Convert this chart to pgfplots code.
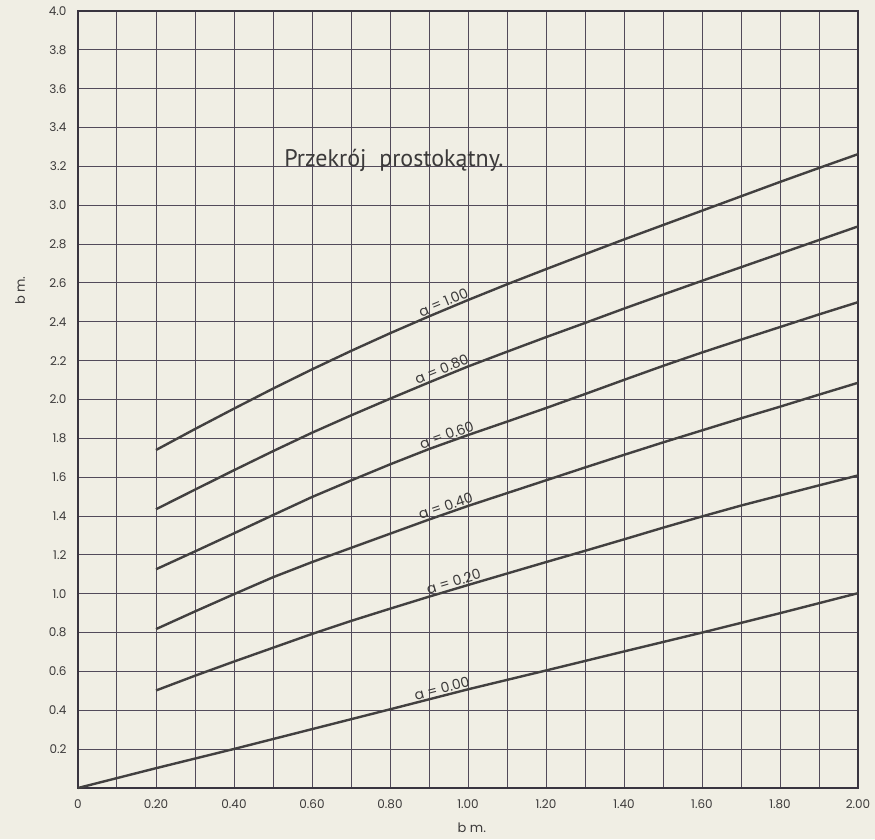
\documentclass[border=0pt]{standalone}
\usepackage{pgfplots}
\pgfplotsset{compat=1.18}
\usepackage{fontspec}
\setmainfont{Poppins}
\newfontfamily\titlefont{PT Sans}
\definecolor{bg}{RGB}{240,238,228}
\definecolor{gridc}{RGB}{82,74,90}
\definecolor{curve}{RGB}{66,64,64}
\definecolor{txt}{RGB}{60,58,58}
\begin{document}
\begin{tikzpicture}
\fill[bg] (-78pt,-51pt) rectangle (797pt,788pt);
\begin{axis}[
  at={(0pt,0pt)}, anchor=south west,
  scale only axis, width=780pt, height=777pt,
  xmin=0, xmax=2, ymin=0, ymax=4,
  xtick={0,0.2,0.4,0.6,0.8,1.0,1.2,1.4,1.6,1.8,2.0},
  xticklabels={0,0.20,0.40,0.60,0.80,1.00,1.20,1.40,1.60,1.80,2.00},
  minor xtick={0.1,0.3,0.5,0.7,0.9,1.1,1.3,1.5,1.7,1.9},
  ytick={0.2,0.4,0.6,0.8,1.0,1.2,1.4,1.6,1.8,2.0,2.2,2.4,2.6,2.8,3.0,3.2,3.4,3.6,3.8,4.0},
  yticklabels={0.2,0.4,0.6,0.8,1.0,1.2,1.4,1.6,1.8,2.0,2.2,2.4,2.6,2.8,3.0,3.2,3.4,3.6,3.8,4.0},
  major tick length=0pt, minor tick length=0pt,
  grid=both,
  major grid style={gridc, line width=1pt},
  minor grid style={gridc, line width=1pt},
  axis line style={gridc!70!black, line width=1.8pt},
  tick label style={font=\fontsize{12}{14}\selectfont, text=txt},
  xticklabel style={yshift=-8pt},
  yticklabel style={xshift=-8pt},
  xlabel={b m.},
  xlabel style={at={(rel axis cs:0.505,0)}, anchor=center, yshift=-40pt, font=\fontsize{13}{15}\selectfont, text=txt},
  ylabel={b m.},
  ylabel style={at={(rel axis cs:0,0.64)}, anchor=center, yshift=58pt, font=\fontsize{13}{15}\selectfont, text=txt},
  clip=false,
]
\addplot[curve, line width=2.4pt] coordinates {
(0.2,1.740) (0.3,1.848) (0.4,1.953) (0.5,2.056) (0.6,2.155) (0.7,2.250) (0.8,2.341) (0.9,2.428) (1.0,2.512) (1.1,2.593) (1.2,2.671) (1.3,2.748) (1.4,2.824) (1.5,2.898) (1.6,2.972) (1.7,3.046) (1.8,3.120) (1.9,3.192) (2.0,3.263)
} node[pos=0.44, sloped, above, inner sep=1pt, font=\fontsize{14}{16}\selectfont, text=txt] {a = 1.00};
\addplot[curve, line width=2.4pt] coordinates {
(0.2,1.435) (0.3,1.536) (0.4,1.636) (0.5,1.734) (0.6,1.829) (0.7,1.918) (0.8,2.004) (0.9,2.088) (1.0,2.170) (1.1,2.246) (1.2,2.321) (1.3,2.394) (1.4,2.468) (1.5,2.540) (1.6,2.611) (1.7,2.681) (1.8,2.751) (1.9,2.821) (2.0,2.891)
} node[pos=0.435, sloped, above, inner sep=1pt, font=\fontsize{14}{16}\selectfont, text=txt] {a = 0.80};
\addplot[curve, line width=2.4pt] coordinates {
(0.2,1.126) (0.3,1.218) (0.4,1.311) (0.5,1.405) (0.6,1.498) (0.7,1.583) (0.8,1.666) (0.9,1.745) (1.0,1.817) (1.1,1.886) (1.2,1.956) (1.3,2.028) (1.4,2.101) (1.5,2.173) (1.6,2.242) (1.7,2.308) (1.8,2.373) (1.9,2.438) (2.0,2.501)
} node[pos=0.44, sloped, above, inner sep=1pt, font=\fontsize{14}{16}\selectfont, text=txt] {a = 0.60};
\addplot[curve, line width=2.4pt] coordinates {
(0.2,0.818) (0.3,0.909) (0.4,0.998) (0.5,1.085) (0.6,1.163) (0.7,1.236) (0.8,1.309) (0.9,1.382) (1.0,1.452) (1.1,1.518) (1.2,1.584) (1.3,1.650) (1.4,1.715) (1.5,1.779) (1.6,1.841) (1.7,1.903) (1.8,1.963) (1.9,2.025) (2.0,2.086)
} node[pos=0.435, sloped, above, inner sep=1pt, font=\fontsize{14}{16}\selectfont, text=txt] {a = 0.40};
\addplot[curve, line width=2.4pt] coordinates {
(0.2,0.502) (0.3,0.578) (0.4,0.651) (0.5,0.722) (0.6,0.793) (0.7,0.860) (0.8,0.923) (0.9,0.985) (1.0,1.045) (1.1,1.104) (1.2,1.163) (1.3,1.221) (1.4,1.280) (1.5,1.340) (1.6,1.398) (1.7,1.454) (1.8,1.506) (1.9,1.558) (2.0,1.609)
} node[pos=0.44, sloped, above, inner sep=1pt, font=\fontsize{14}{16}\selectfont, text=txt] {a = 0.20};
\addplot[curve, line width=2.4pt] coordinates {
(0,0) (0.2,0.102) (0.4,0.201) (0.6,0.303) (0.8,0.405) (1.0,0.508) (1.2,0.605) (1.4,0.703) (1.6,0.800) (1.8,0.900) (2.0,1.003)
} node[pos=0.47, sloped, above, inner sep=1pt, font=\fontsize{14}{16}\selectfont, text=txt] {a = 0.00};
\node[font=\titlefont\fontsize{24}{28}\selectfont, text=txt] at (axis cs:0.81,3.23) {Przekrój \ prostokątny.};
\end{axis}
\end{tikzpicture}
\end{document}
